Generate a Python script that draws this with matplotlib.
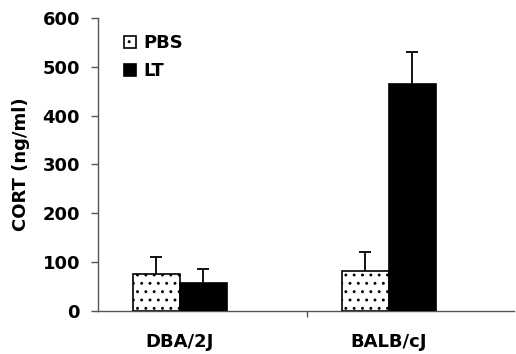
import matplotlib.pyplot as plt
import numpy as np

# CORT levels
strains = ["DBA/2J", "BALB/cJ"]
pbs_mean = [76, 81]
pbs_err = [33, 39]
lt_mean = [57, 465]
lt_err = [28, 65]
y_ticks = [0, 100, 200, 300, 400, 500, 600]

plt.rcParams["font.family"] = ["DejaVu Sans"]
plt.rcParams["font.weight"] = "bold"
plt.rcParams["hatch.linewidth"] = 0.9

fig = plt.figure(figsize=(5.16, 3.54), dpi=100)
ax = fig.add_axes([0.19, 0.1225, 0.807, 0.8265])

x = np.arange(len(strains))
w = 0.224
axis_col = "#555555"
fs = 13

ax.bar(x - w / 2, pbs_mean, w, color="white", edgecolor="black", linewidth=1.2,
       hatch="..", zorder=3, label="PBS")
ax.bar(x + w / 2, lt_mean, w, color="black", edgecolor="black", linewidth=1.2,
       zorder=3, label="LT")
ax.errorbar(x - w / 2, pbs_mean, yerr=pbs_err, fmt="none", ecolor="black",
            elinewidth=1.3, capsize=4, capthick=1.3, zorder=2)
ax.errorbar(x + w / 2, lt_mean, yerr=lt_err, fmt="none", ecolor="black",
            elinewidth=1.3, capsize=4, capthick=1.3, zorder=2)

ax.set_xlim(-0.39, 1.6)
ax.set_ylim(0, 600)
ax.set_yticks(y_ticks)
ax.set_yticklabels([str(t) for t in y_ticks], fontsize=fs, fontweight="bold")
ax.tick_params(axis="y", direction="out", length=5, width=1, color=axis_col, pad=8)

# category labels without tick marks, divider tick between groups
ax.set_xticks([0.61])
ax.set_xticklabels([""])
ax.tick_params(axis="x", direction="out", length=4, width=1, color=axis_col)
for xi, name in zip(x, strains):
    ax.text(xi, -0.075, name, transform=ax.get_xaxis_transform(), ha="center",
            va="top", fontsize=fs, fontweight="bold")

ax.set_ylabel("CORT (ng/ml)", fontsize=fs, fontweight="bold", labelpad=9)

for s in ["top", "right"]:
    ax.spines[s].set_visible(False)
for s in ["left", "bottom"]:
    ax.spines[s].set_color(axis_col)
    ax.spines[s].set_linewidth(1.0)

ax.legend(loc="upper left", bbox_to_anchor=(0.04, 0.975), frameon=False,
          prop={"size": fs, "weight": "bold"}, handlelength=0.7,
          handleheight=0.7, handletextpad=0.4, labelspacing=0.55, borderpad=0)

fig.savefig("out.png", dpi=100)
